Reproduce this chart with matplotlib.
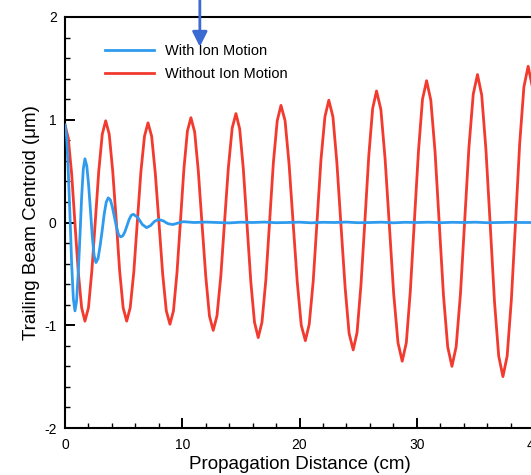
import matplotlib
matplotlib.use("Agg")
import matplotlib.pyplot as plt
from matplotlib.ticker import MultipleLocator

plt.rcParams["font.family"] = ["Liberation Sans", "DejaVu Sans"]

# Trailing-beam centroid without ion motion (cm, um)
dist_no_ion = [
    0.00, 0.28, 0.57, 0.85, 1.13, 1.42,
    1.70, 2.00, 2.29, 2.59, 2.88, 3.18,
    3.47, 3.77, 4.07, 4.37, 4.66, 4.96,
    5.26, 5.56, 5.87, 6.17, 6.47, 6.78,
    7.08, 7.39, 7.70, 8.02, 8.33, 8.64,
    8.95, 9.25, 9.55, 9.85, 10.14, 10.44,
    10.74, 11.06, 11.37, 11.69, 12.01, 12.32,
    12.64, 12.96, 13.29, 13.61, 13.93, 14.26,
    14.58, 14.90, 15.21, 15.53, 15.85, 16.16,
    16.48, 16.80, 17.13, 17.45, 17.77, 18.10,
    18.42, 18.77, 19.11, 19.46, 19.81, 20.15,
    20.50, 20.83, 21.17, 21.50, 21.83, 22.17,
    22.50, 22.85, 23.19, 23.54, 23.89, 24.23,
    24.58, 24.91, 25.24, 25.58, 25.91, 26.24,
    26.57, 26.94, 27.30, 27.67, 28.03, 28.40,
    28.76, 29.11, 29.45, 29.80, 30.15, 30.49,
    30.84, 31.20, 31.56, 31.92, 32.28, 32.64,
    33.00, 33.36, 33.73, 34.09, 34.45, 34.82,
    35.18, 35.54, 35.90, 36.27, 36.63, 36.99,
    37.35, 37.71, 38.07, 38.43, 38.78, 39.14,
    39.50, 39.86, 40.20,
]
centroid_no_ion = [
    0.95, 0.82, 0.47, -0.01, -0.48, -0.83,
    -0.96, -0.83, -0.47, 0.02, 0.50, 0.86,
    0.99, 0.86, 0.50, 0.02, -0.47, -0.83,
    -0.96, -0.83, -0.48, 0.01, 0.49, 0.84,
    0.97, 0.84, 0.48, -0.01, -0.50, -0.86,
    -0.99, -0.86, -0.49, 0.02, 0.52, 0.89,
    1.02, 0.88, 0.50, -0.02, -0.53, -0.91,
    -1.05, -0.91, -0.52, 0.01, 0.53, 0.92,
    1.06, 0.91, 0.52, -0.03, -0.58, -0.97,
    -1.12, -0.97, -0.56, 0.01, 0.58, 0.99,
    1.14, 0.99, 0.57, -0.01, -0.58, -1.00,
    -1.15, -0.99, -0.57, 0.02, 0.61, 1.03,
    1.19, 1.03, 0.58, -0.03, -0.63, -1.08,
    -1.24, -1.07, -0.61, 0.02, 0.65, 1.11,
    1.28, 1.10, 0.62, -0.04, -0.69, -1.17,
    -1.35, -1.17, -0.67, 0.02, 0.70, 1.20,
    1.38, 1.19, 0.69, -0.01, -0.71, -1.21,
    -1.40, -1.21, -0.69, 0.02, 0.73, 1.25,
    1.44, 1.24, 0.71, -0.03, -0.77, -1.30,
    -1.50, -1.30, -0.75, 0.01, 0.77, 1.32,
    1.52, 1.32, 0.95,
]

# Trailing-beam centroid with ion motion (cm, um)
dist_ion = [
    0.00, 0.14, 0.28, 0.43, 0.57, 0.71,
    0.85, 0.99, 1.13, 1.28, 1.42, 1.56,
    1.70, 1.86, 2.01, 2.17, 2.33, 2.48,
    2.64, 2.82, 2.99, 3.17, 3.34, 3.52,
    3.69, 3.87, 4.04, 4.22, 4.40, 4.57,
    4.75, 4.93, 5.11, 5.29, 5.47, 5.65,
    5.83, 6.20, 6.40, 6.60,
    6.96, 7.30, 7.46, 7.63,
    7.96, 8.40, 8.60, 8.80,
    9.20, 9.65, 10.10,
    11.0, 12.0, 13.0, 14.0, 15.0, 16.0, 17.0, 18.0, 19.0, 20.0,
    21.0, 22.0, 23.0, 24.0, 25.0, 26.0, 27.0, 28.0, 29.0, 30.0,
    31.0, 32.0, 33.0, 34.0, 35.0, 36.0, 37.0, 38.0, 39.0, 40.0,
]
centroid_ion = [
    0.95, 0.83, 0.50, 0.05, -0.41, -0.74,
    -0.86, -0.76, -0.49, -0.12, 0.25, 0.52,
    0.62, 0.55, 0.37, 0.12, -0.14, -0.32,
    -0.39, -0.35, -0.23, -0.08, 0.08, 0.20,
    0.24, 0.22, 0.15, 0.05, -0.05, -0.12,
    -0.14, -0.13, -0.09, -0.03, 0.03, 0.07,
    0.08, 0.05, 0.015, -0.02,
    -0.05, -0.03, -0.01, 0.01,
    0.03, 0.015, 0.0, -0.012,
    -0.02, -0.005, 0.008,
    0.0, 0.004, 0.0, -0.004, 0.003, 0.0, 0.004, -0.002, 0.0, 0.003,
    -0.003, 0.002, 0.0, 0.004, -0.002, 0.0, 0.003, -0.003, 0.002, 0.0,
    0.003, -0.002, 0.002, 0.0, 0.003, -0.002, 0.0, 0.002, 0.0, 0.0,
]

x_ticks = [0, 10, 20, 30, 40]
x_tick_labels = ["0", "10", "20", "30", "40"]
y_ticks = [-2, -1, 0, 1, 2]
y_tick_labels = ["-2", "-1", "0", "1", "2"]

W, H = 531, 475
fig = plt.figure(figsize=(W / 100, H / 100), dpi=100)
ax = fig.add_axes([65 / W, (H - 428) / H, 469 / W, 411 / H])

ax.plot(dist_ion, centroid_ion, color="#2f9bee", lw=2.0, label="With Ion Motion",
        zorder=3)
ax.plot(dist_no_ion, centroid_no_ion, color="#f23a2e", lw=2.0,
        label="Without Ion Motion", zorder=2)

ax.set_xlim(0, 40)
ax.set_ylim(-2, 2)
ax.set_xticks(x_ticks)
ax.set_xticklabels(x_tick_labels)
ax.set_yticks(y_ticks)
ax.set_yticklabels(y_tick_labels)
ax.xaxis.set_minor_locator(MultipleLocator(2))
ax.yaxis.set_minor_locator(MultipleLocator(0.2))

ax.tick_params(which="both", direction="in", top=False, right=False,
               labelsize=10, colors="black")
ax.tick_params(which="major", length=7, width=1.4)
ax.tick_params(which="minor", length=3.8, width=1.0)
ax.tick_params(axis="x", pad=7)
ax.tick_params(axis="y", pad=6)

for side in ["left", "bottom", "top", "right"]:
    ax.spines[side].set_linewidth(1.5)
    ax.spines[side].set_color("black")

ax.set_xlabel("Propagation Distance (cm)", fontsize=13.5, labelpad=3)
ax.set_ylabel("Trailing Beam Centroid (\u03bcm)", fontsize=13.5, labelpad=3)

leg = ax.legend(loc="upper left", bbox_to_anchor=(0.085, 0.935), frameon=False,
                fontsize=10.5, handlelength=3.4, handletextpad=0.7,
                labelspacing=0.62, borderpad=0, borderaxespad=0)

# Marker arrow pointing into the plot from above
ax.annotate("", xy=(11.5, 1.71), xytext=(11.5, 2.2),
            xycoords="data", textcoords="data", annotation_clip=False,
            arrowprops=dict(arrowstyle="-|>,head_length=0.9,head_width=0.45",
                            color="#3a6ad2", lw=2.0, shrinkA=0, shrinkB=0),
            zorder=5)

fig.savefig("out.png", dpi=100)
